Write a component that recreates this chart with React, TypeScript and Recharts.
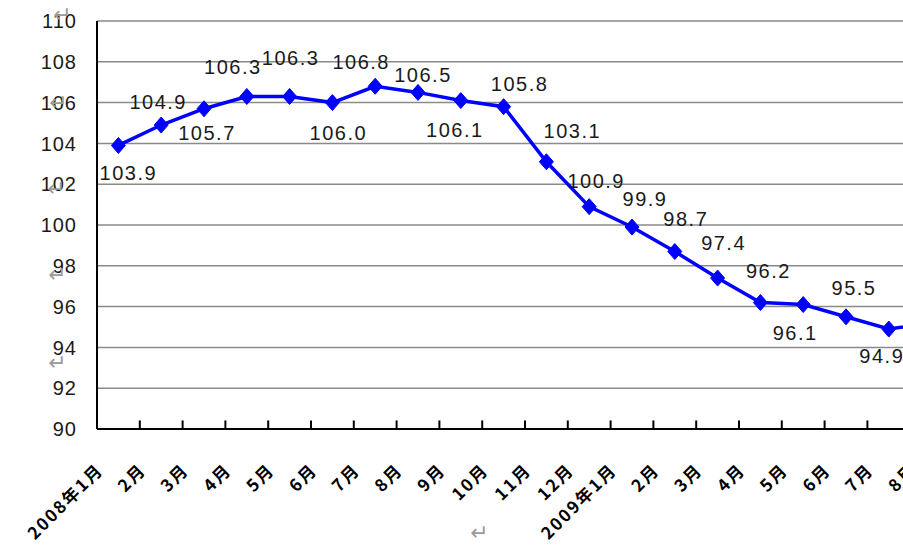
import React from 'react';
import { LineChart, Line, XAxis, YAxis, CartesianGrid, LabelList, ReferenceLine } from 'recharts';

const categories = ['2008年1月', '2月', '3月', '4月', '5月', '6月', '7月', '8月', '9月', '10月', '11月', '12月', '2009年1月', '2月', '3月', '4月', '5月', '6月', '7月', '8月'];
const values = [103.9, 104.9, 105.7, 106.3, 106.3, 106.0, 106.8, 106.5, 106.1, 105.8, 103.1, 100.9, 99.9, 98.7, 97.4, 96.2, 96.1, 95.5, 94.9, 95.2];
const yTicks = [90, 92, 94, 96, 98, 100, 102, 104, 106, 108, 110];

// label placement offsets (style only)
const labelDx = [10, -3, 3, -14, 1, 6, -14, 5, -6, 16, 26, 7, 13, 11, 6, 8, -8, 8, -7, 0];
const labelDy = [28, -23, 24, -29, -38, 30, -24, -17, 29, -23, -31, -26, -28, -33, -35, -32, 28, -29, 27, -28];

const data = categories.map((c, i) => ({ idx: i + 1, cat: c, value: values[i] }));
const boundaries = categories.slice(1).map((_, i) => i + 1.5);

const marks = [
  { left: 53, top: 4 },
  { left: 49, top: 92 },
  { left: 47, top: 178 },
  { left: 48, top: 264 },
  { left: 48, top: 352 },
  { left: 470, top: 522 },
];

const XTick = (props: any) => {
  const { x, y, payload } = props;
  const label = categories[Math.round(payload.value) - 1];
  const ax = x - 14;
  const ay = y + 42;
  return (
    <text
      x={ax}
      y={ay}
      transform={`rotate(-45 ${ax} ${ay})`}
      textAnchor="end"
      fontSize={17}
      fontWeight={700}
      letterSpacing={2}
      fontFamily="'Noto Sans CJK SC', sans-serif"
      fill="#000"
    >
      {label}
    </text>
  );
};

const Diamond = (props: any) => {
  const { cx, cy, index } = props;
  if (cx == null || cy == null) return null;
  return (
    <polygon
      key={`d-${index}`}
      points={`${cx},${cy - 8} ${cx + 7},${cy} ${cx},${cy + 8} ${cx - 7},${cy}`}
      fill="#0000FF"
      stroke="#0000FF"
    />
  );
};

const ValueLabel = (props: any) => {
  const { x, y, index } = props;
  if (x == null || y == null) return null;
  return (
    <text
      x={x + labelDx[index]}
      y={y + labelDy[index]}
      textAnchor="middle"
      dominantBaseline="central"
      fontSize={20}
      letterSpacing={1.5}
      fontFamily="'Liberation Sans', Arial, sans-serif"
      fill="#1a1a1a"
    >
      {values[index].toFixed(1)}
    </text>
  );
};

export default function App() {
  return (
    <div style={{ position: 'absolute', left: 0, top: 0, width: 903, height: 554, overflow: 'hidden', background: '#fff' }}>
      <LineChart width={960} height={554} data={data} margin={{ top: 21, right: 7, bottom: 0, left: 0 }}>
        <CartesianGrid horizontal={true} vertical={false} stroke="#8a8a8a" strokeWidth={1.5} />
        <XAxis
          dataKey="idx"
          type="number"
          domain={[0.5, 20.5]}
          ticks={data.map((d) => d.idx)}
          interval={0}
          height={125}
          tickLine={false}
          tickSize={0}
          tickMargin={0}
          axisLine={{ stroke: '#000', strokeWidth: 2 }}
          tick={<XTick />}
        />
        <YAxis
          type="number"
          domain={[90, 110]}
          ticks={yTicks}
          width={97}
          interval={0}
          tickLine={false}
          tickSize={6}
          tickMargin={14}
          axisLine={{ stroke: '#000', strokeWidth: 2 }}
          tick={{ fontSize: 20, fill: '#1a1a1a', fontFamily: "'Liberation Sans', Arial, sans-serif", letterSpacing: 1 }}
        />
        {boundaries.map((b) => (
          <ReferenceLine
            key={b}
            segment={[{ x: b, y: 90 }, { x: b, y: 90.42 }]}
            stroke="#000"
            strokeWidth={2}
          />
        ))}
        <Line
          type="linear"
          dataKey="value"
          stroke="#0000FF"
          strokeWidth={3.5}
          dot={<Diamond />}
          activeDot={false}
          isAnimationActive={false}
        >
          <LabelList dataKey="value" content={<ValueLabel />} />
        </Line>
      </LineChart>
      {marks.map((m, i) => (
        <span
          key={i}
          style={{ position: 'absolute', left: m.left, top: m.top, fontSize: 22, color: '#9a9a9a', fontFamily: "'DejaVu Sans', sans-serif", lineHeight: 1 }}
        >
          ↵
        </span>
      ))}
    </div>
  );
}
